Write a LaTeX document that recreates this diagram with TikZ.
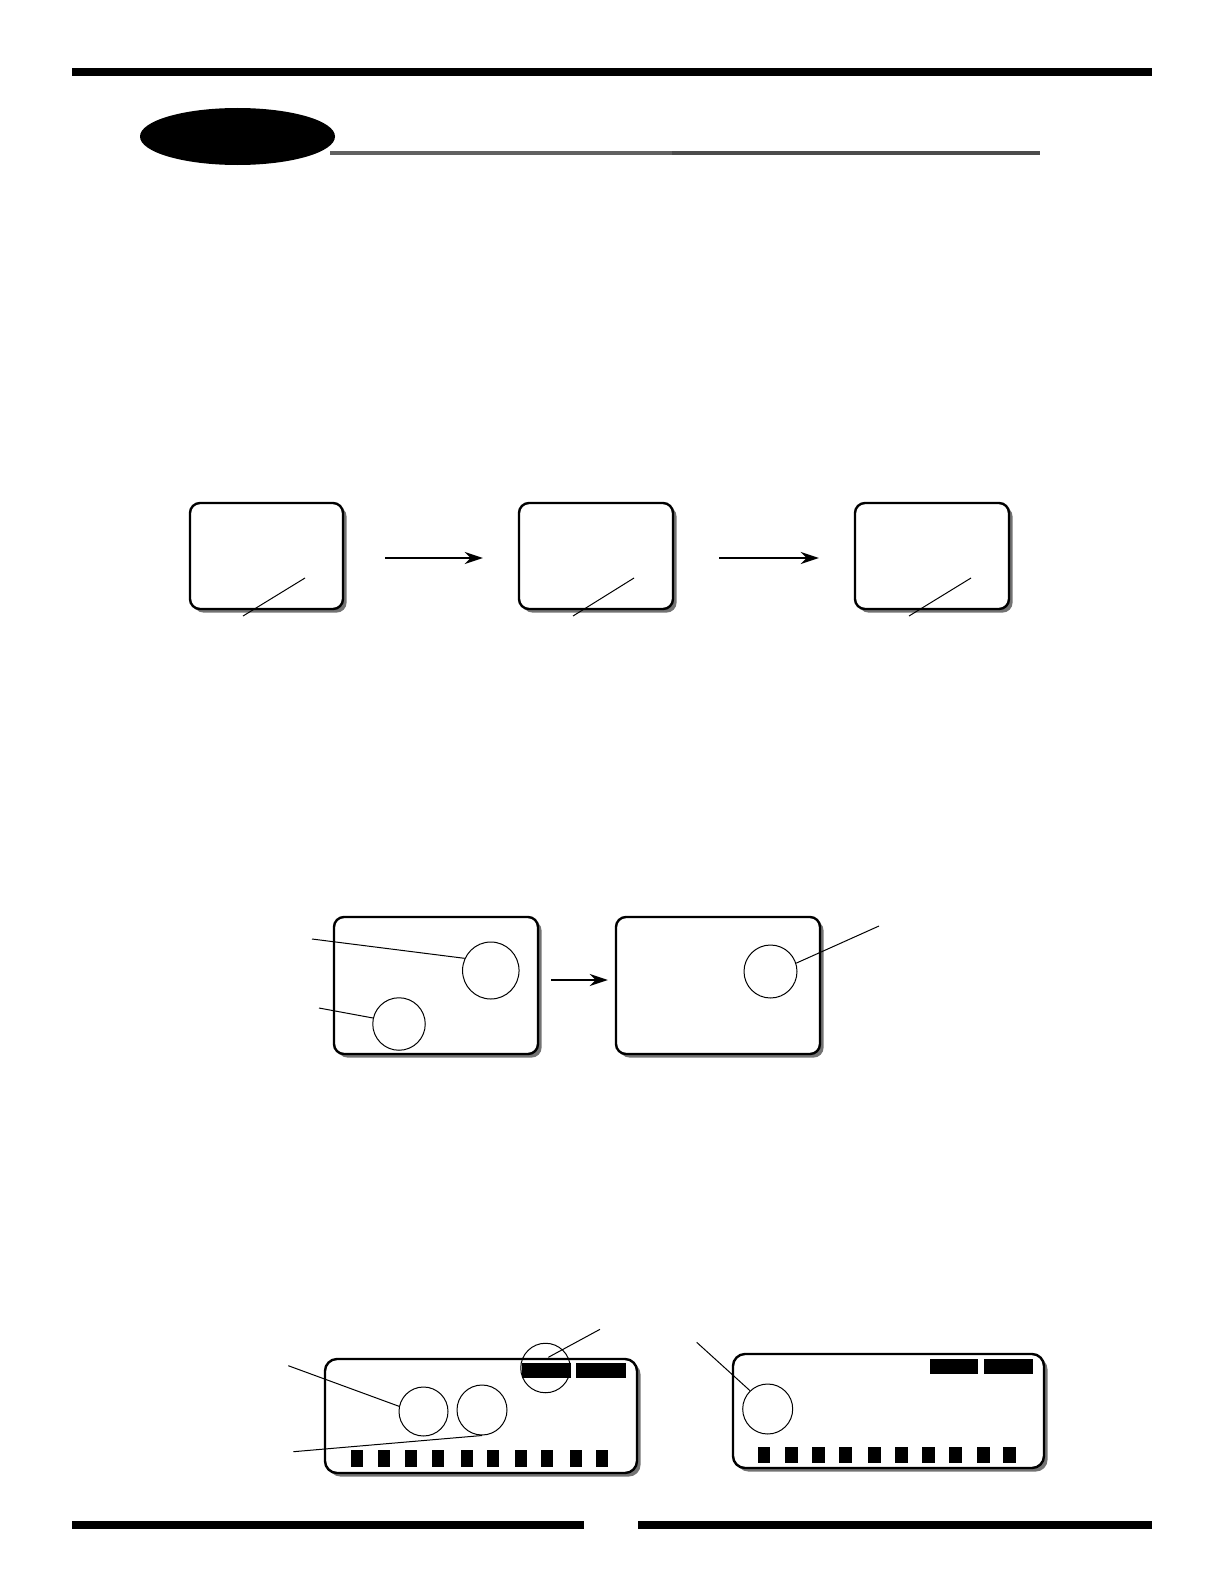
\documentclass[tikz,border=0pt]{standalone}
\usetikzlibrary{shadows,arrows.meta,shapes.geometric}
\begin{document}
\begin{tikzpicture}[x=0.5pt,y=-0.5pt,
  screen/.style={draw, line width=1.2pt, rounded corners=5pt, fill=white, inner sep=0pt,
    drop shadow={shadow xshift=1.8pt, shadow yshift=-1.8pt, fill=black!55, opacity=1}},
  widescreen/.style={screen, rounded corners=6pt},
  lens/.style={draw, ellipse, line width=0.5pt, inner sep=0pt},
  leader/.style={line width=0.5pt},
  flow/.style={line width=1.1pt, -{Stealth[length=9pt,width=6pt]}},
  blk/.style={fill=black, draw=none, inner sep=0pt},
  bar/.style={fill=black, draw=none}]
\useasboundingbox (0,0) rectangle (1224,1584);

% page rules
\fill[bar] (72,68) rectangle (1152,76);
\fill[bar] (72,1521) rectangle (584,1529);
\fill[bar] (638,1521) rectangle (1152,1529);

% title tag
\coordinate (r1) at (330,153);
\coordinate (rm) at (672,153);
\coordinate (r2) at (1040,153);
\draw[line width=1.6pt, draw=black!62] (r1) -- (rm);
\draw[line width=1.6pt, draw=black!70] (rm) -- (r2);
\node[ellipse, fill=black, draw=none, minimum width=97.5pt, minimum height=28.5pt, inner sep=0pt] (tag) at (237.5,136.5) {};

% ---- row 1 ----
\node[screen, minimum width=76.5pt, minimum height=53pt] (b1) at (266.5,556) {};
\node[screen, minimum width=77pt, minimum height=53pt] (b2) at (596,556) {};
\node[screen, minimum width=77pt, minimum height=53pt] (b3) at (932,556) {};
\draw[flow, shorten <=20.5pt, shorten >=17.5pt] ([yshift=-1pt]b1.east) -- ([yshift=-1pt]b2.west);
\draw[flow, shorten <=22.5pt, shorten >=17.5pt] ([yshift=-1pt]b2.east) -- ([yshift=-1pt]b3.west);
\coordinate (d1a) at (243,616); \coordinate (d1b) at (305,578);
\coordinate (d2a) at (573,616); \coordinate (d2b) at (634,578);
\coordinate (d3a) at (909,616); \coordinate (d3b) at (971,578);
\draw[leader] (d1a) -- (d1b);
\draw[leader] (d2a) -- (d2b);
\draw[leader] (d3a) -- (d3b);

% ---- row 2 ----
\node[screen, minimum width=102pt, minimum height=68.5pt] (m1) at (436,985.5) {};
\node[screen, minimum width=102pt, minimum height=68.5pt] (m2) at (718,985.5) {};
\draw[flow, shorten <=6pt, shorten >=3.5pt] ([yshift=2.75pt]m1.east) -- ([yshift=2.75pt]m2.west);
\node[lens, minimum width=28.25pt, minimum height=28.5pt] (c1) at (490.8,970.5) {};
\node[lens, minimum width=26.25pt, minimum height=26.25pt] (c2) at (399,1024) {};
\node[lens, minimum width=26.5pt, minimum height=26.5pt] (c3) at (770.5,971.5) {};
\coordinate (p1) at (312,939);
\coordinate (p2) at (319,1008);
\coordinate (p3) at (879,926);
\draw[leader] (p1) -- (c1.155);
\draw[leader] (p2) -- (c2.167);
\draw[leader] (p3) -- (c3.18);

% ---- row 3 ----
\node[widescreen, minimum width=156pt, minimum height=57pt] (w1) at (481,1416) {};
\node[widescreen, minimum width=155.5pt, minimum height=57pt] (w2) at (888.5,1411) {};
\node[blk, minimum width=24.65pt, minimum height=7.5pt] (k1) at (546.4,1370) {};
\node[blk, minimum width=24.65pt, minimum height=7.5pt] (k2) at (600.9,1370) {};
\node[blk, minimum width=24.15pt, minimum height=7.5pt] (k3) at (954.2,1366.7) {};
\node[blk, minimum width=24.15pt, minimum height=7.5pt] (k4) at (1008.4,1366.7) {};
\foreach \x [count=\i] in {357.2,383.9,410.9,437.9,466.9,493.2,520.9,547.2,575.9,601.9}
  \node[blk, minimum width=6.15pt, minimum height=8.3pt] (sL\i) at (\x,1458.5) {};
\foreach \x [count=\i] in {764,791.3,818.3,845.3,874.3,901.3,928.3,955.3,983.3,1009.6}
  \node[blk, minimum width=6.35pt, minimum height=8pt] (sR\i) at (\x,1454.7) {};
\node[lens, minimum size=24.5pt] (c4) at (423.5,1411.5) {};
\node[lens, minimum size=25pt] (c5) at (482,1410) {};
\node[lens, minimum size=24.75pt] (c6) at (545.5,1368) {};
\node[lens, minimum size=25pt] (c7) at (767.7,1409) {};
\coordinate (q1) at (288.3,1365.7);
\coordinate (q2) at (293.3,1451.7);
\coordinate (q3) at (600,1329.3);
\coordinate (q3e) at (548.3,1357.3);
\coordinate (q4) at (696.7,1342.3);
\draw[leader] (q1) -- (c4.168);
\draw[leader] (q2) -- (c5.south);
\draw[leader] (q3) -- (q3e);
\draw[leader] (q4) -- (c7.134);
\end{tikzpicture}
\end{document}
